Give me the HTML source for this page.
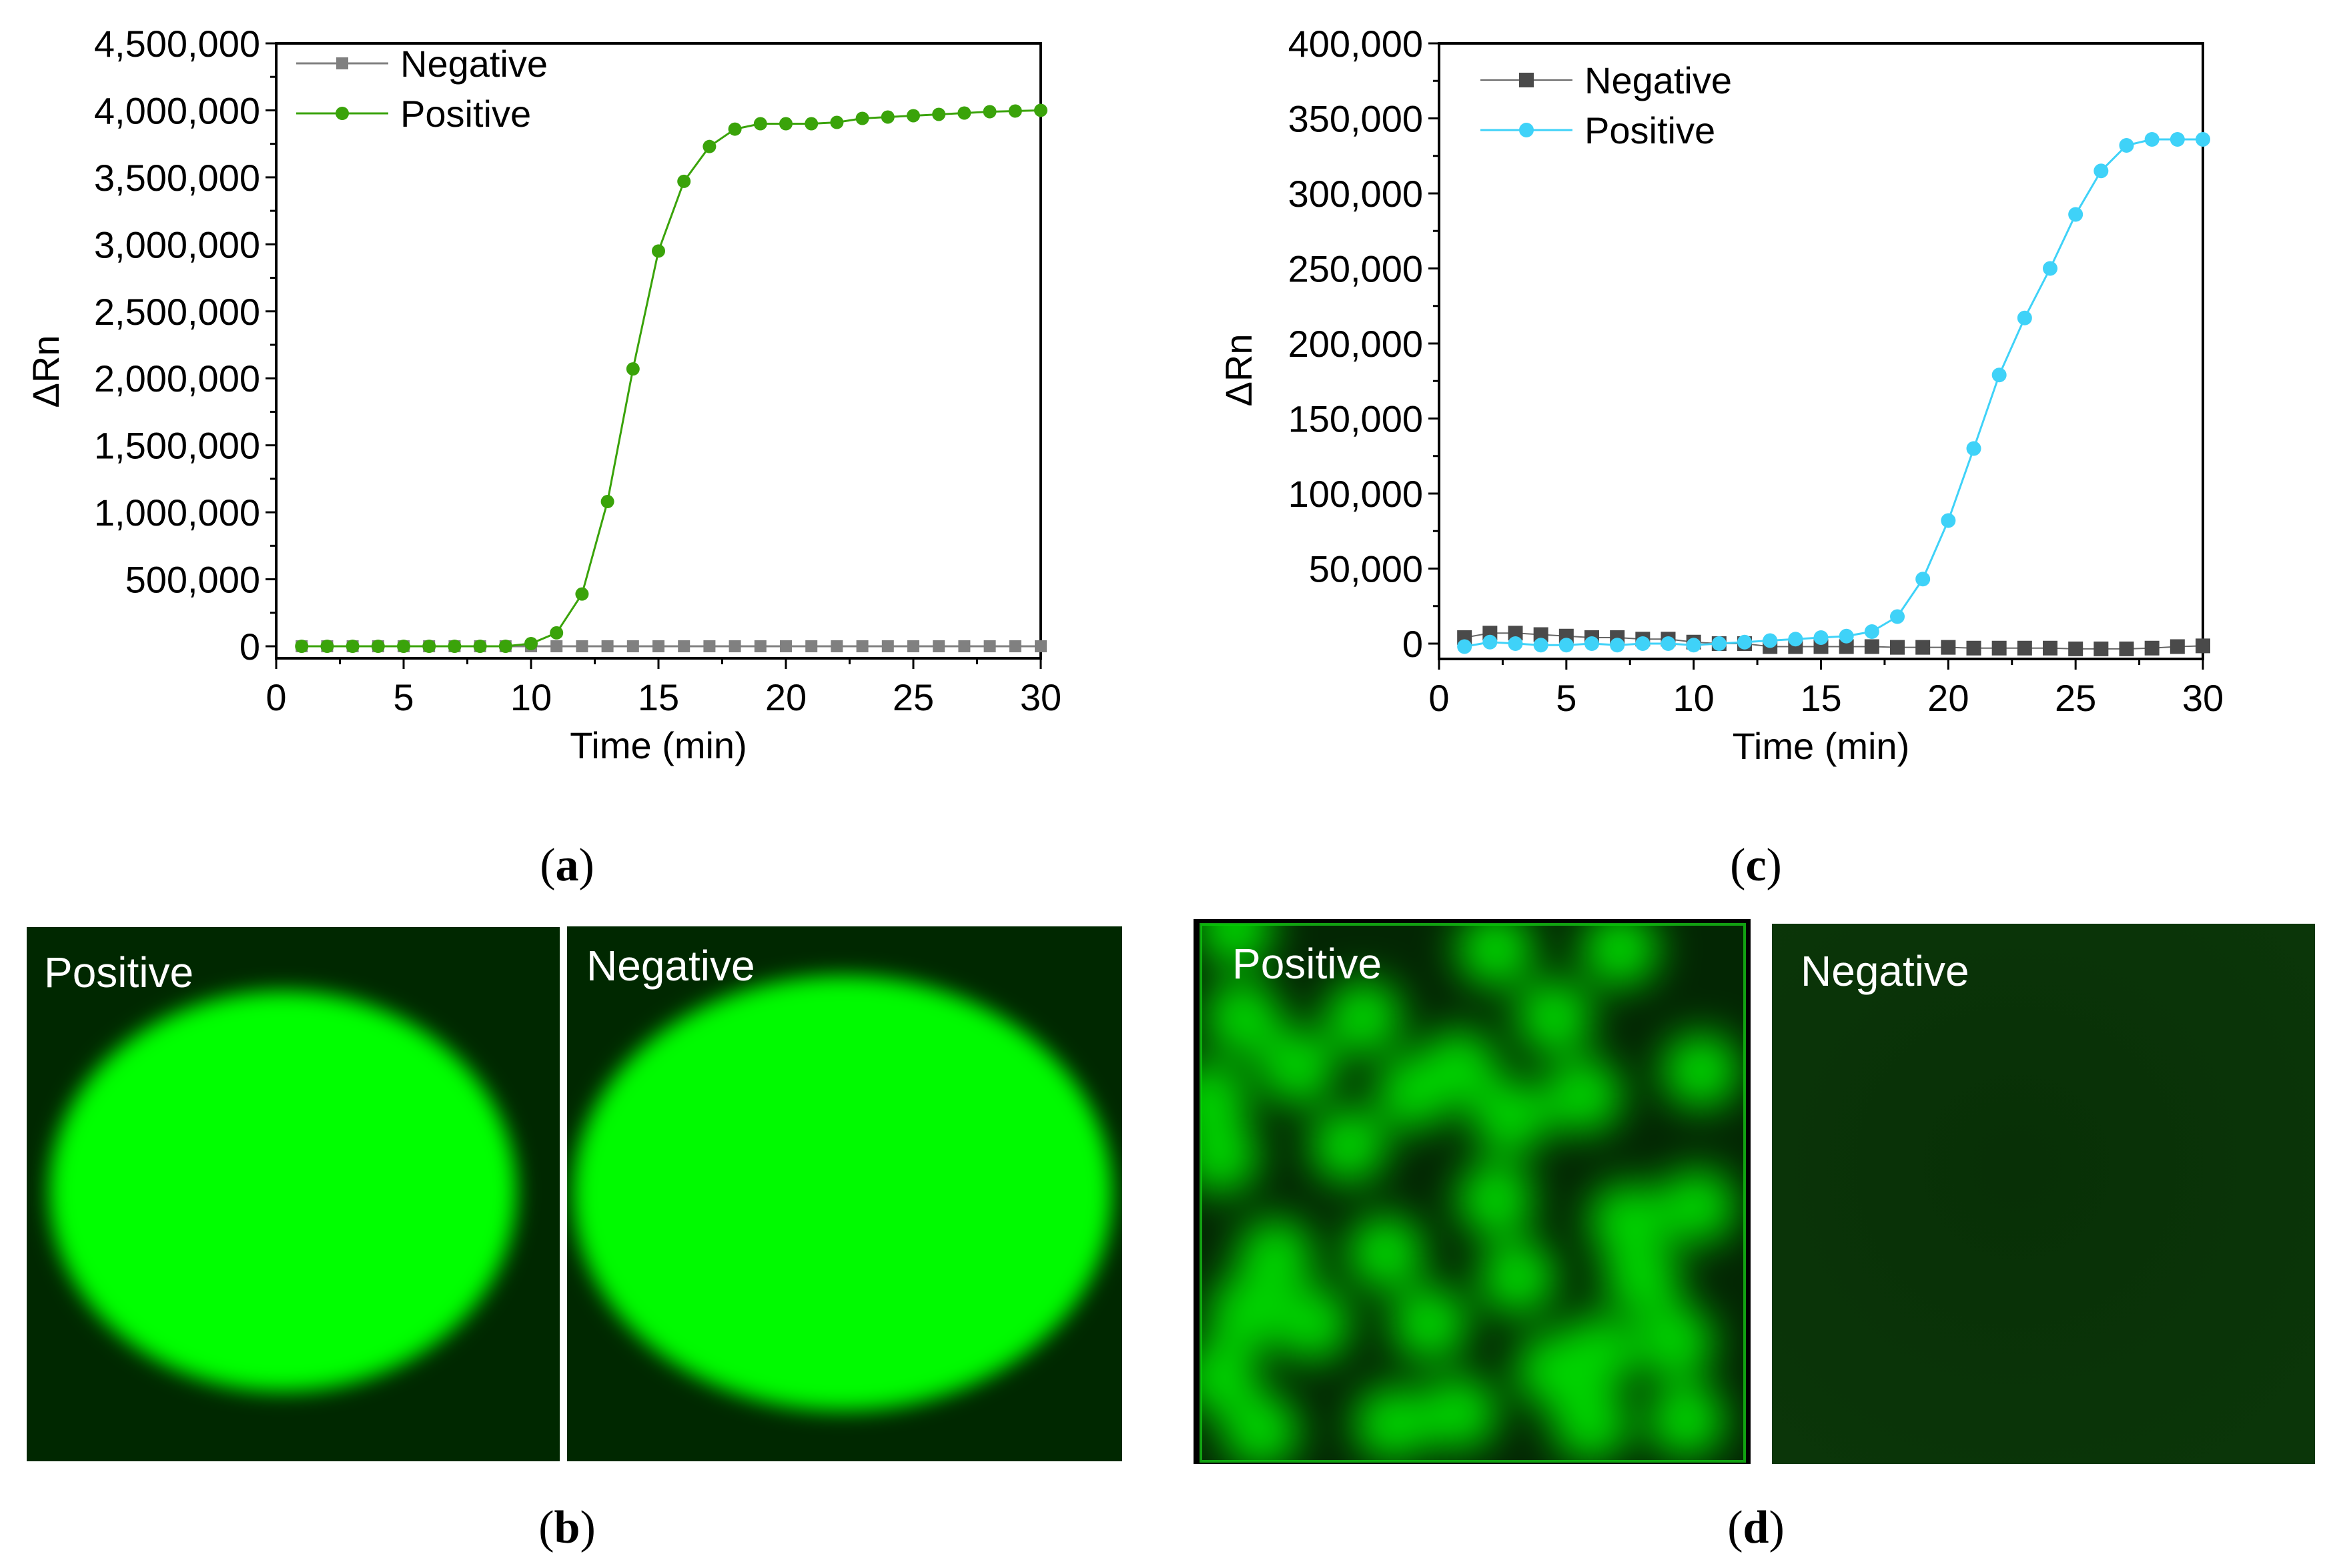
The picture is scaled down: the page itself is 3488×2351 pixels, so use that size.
<!DOCTYPE html>
<html><head><meta charset="utf-8"><style>
html,body{margin:0;padding:0;background:#fff;}
svg{display:block;font-family:"Liberation Sans",Arial,sans-serif;}
</style></head><body>
<svg id="fig" xmlns="http://www.w3.org/2000/svg" width="3488" height="2351" viewBox="0 0 3488 2351">
<defs>
<filter id="blur1" x="-20%" y="-20%" width="140%" height="140%"><feGaussianBlur stdDeviation="16"/></filter>
<filter id="blur2" x="-50%" y="-50%" width="200%" height="200%"><feGaussianBlur stdDeviation="30"/></filter>
<clipPath id="cb1"><rect x="40" y="1390" width="799" height="801"/></clipPath>
<clipPath id="cb2"><rect x="850" y="1389" width="832" height="802"/></clipPath>
<clipPath id="cd1"><rect x="1800" y="1386" width="815" height="805"/></clipPath>
<radialGradient id="gd2" cx="0.45" cy="0.45" r="0.7"><stop offset="0" stop-color="#083006"/><stop offset="1" stop-color="#0b3609"/></radialGradient>
</defs>
<g id="chartA"></g>
<g id="chartC"></g>

<g>
<rect x="40" y="1390" width="799" height="801" fill="#002800"/>
<g clip-path="url(#cb1)"><ellipse cx="424" cy="1786" rx="350" ry="300" fill="#00ff00" filter="url(#blur1)"/></g>
<text x="66" y="1480" font-size="64" fill="#fff">Positive</text>
</g>
<g>
<rect x="850" y="1389" width="832" height="802" fill="#002800"/>
<g clip-path="url(#cb2)"><ellipse cx="1263" cy="1789" rx="404" ry="326" fill="#00fa00" filter="url(#blur1)"/></g>
<text x="879" y="1470" font-size="64" fill="#fff">Negative</text>
</g>

<g>
<rect x="1789" y="1378" width="835" height="817" fill="#000"/>
<rect x="1800" y="1386" width="815" height="805" fill="#032603" stroke="#12a012" stroke-width="4"/>
<g id="blobs" clip-path="url(#cd1)" filter="url(#blur2)"></g>
<text x="1847" y="1467" font-size="64" fill="#fff">Positive</text>
</g>
<g>
<rect x="2656" y="1385" width="814" height="810" fill="url(#gd2)"/>
<text x="2699" y="1478" font-size="64" fill="#fff">Negative</text>
</g>

<g font-family="'Liberation Serif',serif" font-size="70" text-anchor="middle">
<text x="850" y="1320">(<tspan font-weight="bold">a</tspan>)</text>
<text x="850" y="2313">(<tspan font-weight="bold">b</tspan>)</text>
<text x="2632" y="1320">(<tspan font-weight="bold">c</tspan>)</text>
<text x="2632" y="2313">(<tspan font-weight="bold">d</tspan>)</text>
</g>
</svg>
<script>
const timeMin = [1,2,3,4,5,6,7,8,9,10,11,12,13,14,15,16,17,18,19,20,21,22,23,24,25,26,27,28,29,30];
const aPositive = [0,0,0,0,0,0,0,0,0,20000,100000,390000,1080000,2070000,2950000,3470000,3730000,3860000,3900000,3900000,3900000,3910000,3940000,3950000,3960000,3970000,3980000,3990000,3995000,4000000];
const aNegative = [0,0,0,0,0,0,0,0,0,0,0,0,0,0,0,0,0,0,0,0,0,0,0,0,0,0,0,0,0,0];
const cPositive = [-2000,1000,0,-1000,-1000,0,-1000,0,0,-1000,0,1000,2000,3000,4000,5000,8000,18000,43000,82000,130000,179000,217000,250000,286000,315000,332000,336000,336000,336000];
const cNegative = [4000,7000,7000,6000,5000,4000,4000,3000,3000,1000,0,0,-2000,-2000,-2000,-2000,-2000,-2500,-2500,-2500,-3000,-3000,-3000,-3000,-3500,-3500,-3500,-3000,-2000,-1500];
const xTicks = [0,5,10,15,20,25,30];
const aYTicks = [0,500000,1000000,1500000,2000000,2500000,3000000,3500000,4000000,4500000];
const cYTicks = [0,50000,100000,150000,200000,250000,300000,350000,400000];
const NS='http://www.w3.org/2000/svg';
function mk(p,tag,at){const e=document.createElementNS(NS,tag);for(const k in at)e.setAttribute(k,at[k]);p.appendChild(e);return e;}
function fmt(v){return v.toLocaleString('en-US');}
function chart(g,o){
  const X=v=>o.x0+(v-0)/30*(o.x1-o.x0);
  const Y=v=>o.yZero-(v/o.yMax)*(o.yZero-o.top);
  const fr=mk(g,'rect',{x:o.x0,y:o.top,width:o.x1-o.x0,height:o.bottom-o.top,fill:'none',stroke:'#000','stroke-width':4});
  
  
  const step=o.yTicks[1]-o.yTicks[0];
  o.yTicks.forEach((t,i)=>{
    const y=Y(t);
    const tk=mk(g,'line',{x1:o.x0-16,x2:o.x0,y1:y,y2:y,stroke:'#000','stroke-width':3});
    
    
    if(i<o.yTicks.length-1){const ym=Y(t+step/2);mk(g,'line',{x1:o.x0-9,x2:o.x0,y1:ym,y2:ym,stroke:'#000','stroke-width':3});}
    const tl=mk(g,'text',{x:o.x0-24,y:y+20,'font-size':56,'text-anchor':'end'});
    tl.textContent=fmt(t);
    
    
  });
  xTicks.forEach((t,i)=>{
    const x=X(t);
    const tk=mk(g,'line',{x1:x,x2:x,y1:o.bottom,y2:o.bottom+16,stroke:'#000','stroke-width':3});
    
    
    if(i<xTicks.length-1){const xm=X(t+2.5);mk(g,'line',{x1:xm,x2:xm,y1:o.bottom,y2:o.bottom+9,stroke:'#000','stroke-width':3});}
    const tl=mk(g,'text',{x:x,y:o.bottom+78,'font-size':56,'text-anchor':'middle'});
    tl.textContent=t;
    
    
  });
  const xt=mk(g,'text',{x:(o.x0+o.x1)/2,y:o.bottom+150,'font-size':56,'text-anchor':'middle'});
  xt.textContent='Time (min)';
  
  
  const yt=mk(g,'text',{x:0,y:0,'font-size':56,'text-anchor':'middle',transform:`translate(${o.ytx},${(o.top+o.yZero)/2+40}) rotate(-90)`});
  yt.textContent='ΔRn';
  
  
  o.series.forEach(s=>{
    const sg=mk(g,'g',{});
    
    
    const pts=timeMin.map((t,i)=>X(t)+','+Y(s.vals[i])).join(' ');
    mk(sg,'polyline',{points:pts,fill:'none',stroke:s.line,'stroke-width':s.lw});
    timeMin.forEach((t,i)=>{
      let m;
      if(s.shape==='sq'){m=mk(sg,'rect',{x:X(t)-s.r,y:Y(s.vals[i])-s.r,width:2*s.r,height:2*s.r,fill:s.color});}
      else{m=mk(sg,'circle',{cx:X(t),cy:Y(s.vals[i]),r:s.r,fill:s.color});}
      
      
    });
    const lg=mk(g,'g',{});
    
    
    mk(lg,'line',{x1:o.lx,x2:o.lx+138,y1:s.ly,y2:s.ly,stroke:s.line,'stroke-width':s.lw});
    if(s.shape==='sq')mk(lg,'rect',{x:o.lx+69-s.r,y:s.ly-s.r,width:2*s.r,height:2*s.r,fill:s.color});
    else mk(lg,'circle',{cx:o.lx+69,cy:s.ly,r:s.r,fill:s.color});
    const lt=mk(lg,'text',{x:o.lx+156,y:s.ly+20,'font-size':56});
    lt.textContent=s.name;
  });
}
chart(document.getElementById('chartA'),{x0:414,x1:1560,top:65,bottom:987,yZero:969,yMax:4500000,yTicks:aYTicks,ytx:88,lx:444,
  series:[{name:'Negative',vals:aNegative,color:'#808080',line:'#808080',lw:3,shape:'sq',r:9,ly:95},
          {name:'Positive',vals:aPositive,color:'#3aa30a',line:'#3aa30a',lw:3,shape:'c',r:10,ly:170}]});
chart(document.getElementById('chartC'),{x0:2157,x1:3302,top:65,bottom:988,yZero:965,yMax:400000,yTicks:cYTicks,ytx:1876,lx:2219,
  series:[{name:'Negative',vals:cNegative,color:'#4a4a4a',line:'#666',lw:2,shape:'sq',r:11,ly:120},
          {name:'Positive',vals:cPositive,color:'#3fd2f8',line:'#3fd2f8',lw:3,shape:'c',r:11,ly:195}]});
const blobSpots=[[130,40],[150,290],[840,100],[1180,100],[480,290],[1000,290],[300,430],[740,430],[1080,510],[1400,440],[60,520],[90,680],[440,650],[880,570],[620,500],[840,800],[1390,820],[1200,860],[240,960],[540,950],[900,1020],[1240,1020],[160,1120],[340,1150],[660,1150],[1000,1280],[1330,1200],[90,1300],[200,1450],[560,1430],[740,1400],[1100,1430],[1360,1420],[1120,1230]];
const bg=document.getElementById('blobs');
blobSpots.forEach(p=>{
  const c=mk(bg,'ellipse',{cx:1780+p[0]/1.82,cy:1370+p[1]/1.87,rx:58,ry:56,fill:'#00d400'});
  
  
});
</script>
</body></html>
